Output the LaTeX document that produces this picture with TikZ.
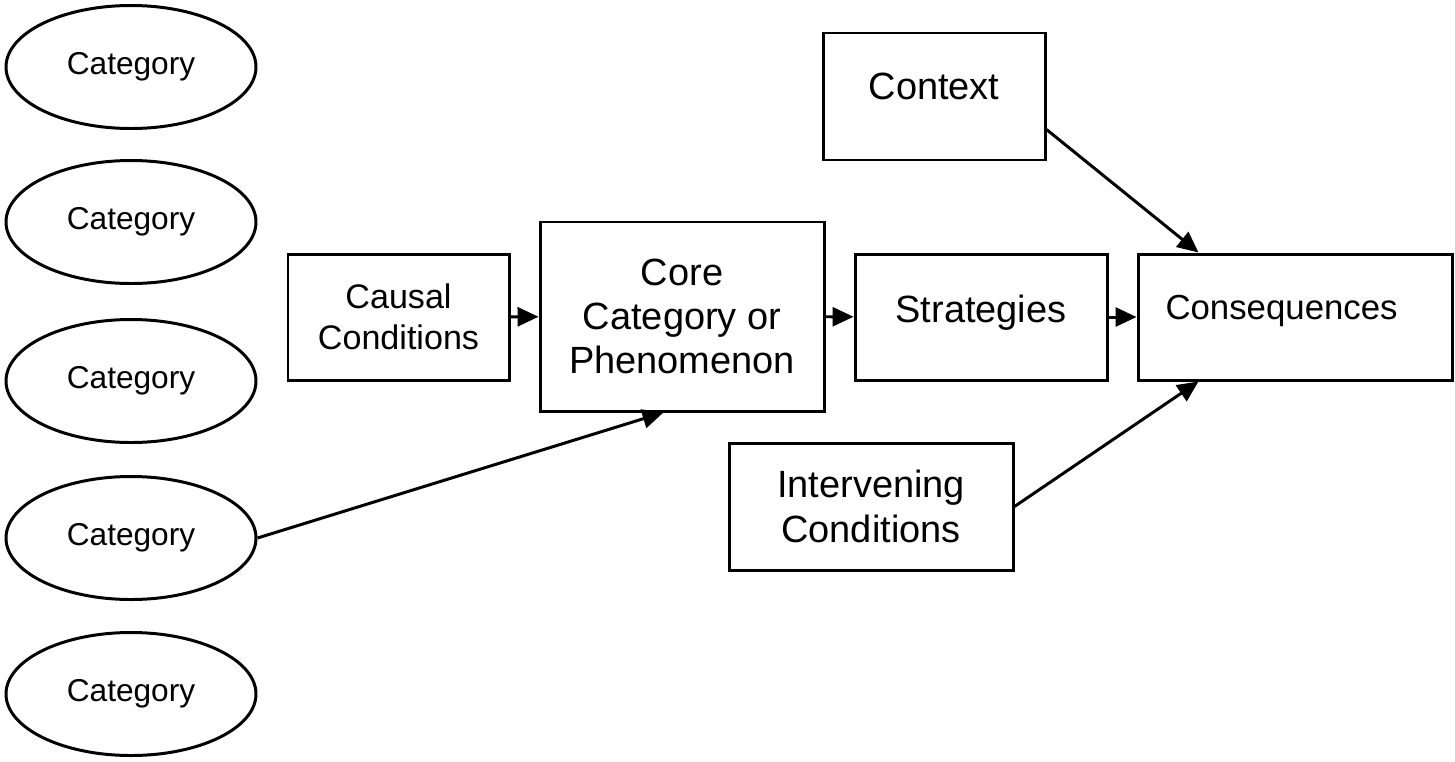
\documentclass[tikz,border=0pt]{standalone}
\usepackage{fontspec}
\setmainfont{Liberation Sans}
\usetikzlibrary{shapes.geometric,arrows.meta}
\tikzset{
    cat/.style = {ellipse, draw, line width=0.85pt, minimum width=2.5cm, minimum height=1.23cm, inner sep=0pt, font=\fontsize{9}{11}\selectfont},
    box/.style = {rectangle, draw, line width=0.85pt, align=center, inner sep=0pt, font=\fontsize{10.8}{12.6}\selectfont},
    arr/.style = {line width=0.85pt, -{Triangle[length=0.21cm,width=0.19cm]}},
}

\begin{document}
\begin{tikzpicture}
    \useasboundingbox (0,0) rectangle (14.55,7.61);
    \node (c1) at (1.31,6.94) [cat] {Category};
    \node (c2) at (1.31,5.39) [cat] {Category};
    \node (c3) at (1.31,3.80) [cat] {Category};
    \node (c4) at (1.31,2.23) [cat] {Category};
    \node (c5) at (1.31,0.67) [cat] {Category};
    \node (causal) at (3.985,4.44) [box, minimum width=2.21cm, minimum height=1.26cm, font=\fontsize{9.7}{11.6}\selectfont] {Causal\\Conditions};
    \node (core) at (6.82,4.445) [box, minimum width=2.84cm, minimum height=1.89cm] {Core\\Category or\\Phenomenon};
    \node (strat) at (9.81,4.44) [box, minimum width=2.52cm, minimum height=1.26cm, text depth=0.16cm] {Strategies};
    \node (cons) at (12.95,4.44) [box, minimum width=3.14cm, minimum height=1.26cm, text depth=0.2cm, text width=2.59cm, align=left, font=\fontsize{9.9}{11.8}\selectfont] {Consequences};
    \node (ctx) at (9.34,6.645) [box, minimum width=2.22cm, minimum height=1.27cm, text depth=0.2cm] {Context};
    \node (interv) at (8.71,2.545) [box, minimum width=2.84cm, minimum height=1.27cm] {Intervening\\Conditions};
    \draw[arr] (causal) -- (core);
    \draw[arr] (core) -- (strat);
    \draw[arr] (strat) -- (cons);
    \draw[arr] ([yshift=0.32cm]ctx.south east) -- ([xshift=0.62cm]cons.north west);
    \draw[arr] (interv.east) -- ([xshift=0.62cm]cons.south west);
    \draw[arr] (c4.east) -- ([xshift=1.25cm]core.south west);
\end{tikzpicture}
\end{document}
